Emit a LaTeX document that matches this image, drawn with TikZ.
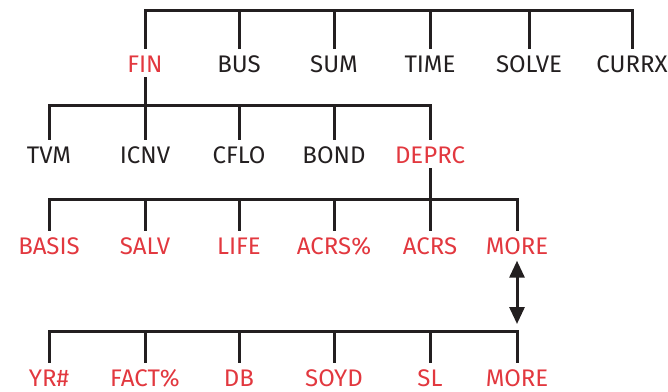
\documentclass[tikz,border=0pt]{standalone}
\usepackage{fontspec}
\setmainfont{Fira Sans}
\usetikzlibrary{arrows.meta}
\definecolor{hpred}{HTML}{E2383F}
\definecolor{hpink}{HTML}{231F20}
\begin{document}
\begin{tikzpicture}[x=1pt,y=-1pt,
  lbl/.style={inner xsep=0pt, inner ysep=6.5pt, text height=18pt, text depth=0pt,
    font=\fontsize{24}{24}\selectfont, text=hpink},
  red/.style={lbl, text=hpred},
  ln/.style={draw=hpink, line width=3pt},
  every path/.style={line cap=rect}]
\useasboundingbox (0,0) rectangle (668,391);
% row 1
\node[red] (fin)   at (145,63) {FIN};
\node[lbl] (bus)   at (239,63) {BUS};
\node[lbl] (sum)   at (334,63) {SUM};
\node[lbl] (time)  at (430,63) {TIME};
\node[lbl] (solve) at (529,63) {SOLVE};
\node[lbl] (currx) at (632,63) {CURRX};
% row 2
\node[lbl] (tvm)   at (49,154) {TVM};
\node[lbl] (icnv)  at (145,154) {ICNV};
\node[lbl] (cflo)  at (239,154) {CFLO};
\node[lbl] (bond)  at (334,154) {BOND};
\node[red] (deprc) at (430,154) {DEPRC};
% row 3
\node[red] (basis) at (49,245) {BASIS};
\node[red] (salv)  at (145,245) {SALV};
\node[red] (life)  at (239,245) {LIFE};
\node[red] (acrsp) at (334,245) {ACRS\%};
\node[red] (acrs)  at (430,245) {ACRS};
\node[red] (moreA) at (517,245) {MORE};
% row 4
\node[red] (yr)    at (49,377) {YR\#};
\node[red] (fact)  at (145,377) {FACT\%};
\node[red] (db)    at (239,377) {DB};
\node[red] (soyd)  at (334,377) {SOYD};
\node[red] (sl)    at (430,377) {SL};
\node[red] (moreB) at (517,377) {MORE};
% bars
\coordinate (b1) at (0,10);
\coordinate (b2) at (0,105);
\coordinate (b3) at (0,199);
\coordinate (b4) at (0,331);
% tree 1
\draw[ln] (fin.north) -- (fin.north |- b1) -- (currx.north |- b1) -- (currx.north);
\foreach \n in {bus,sum,time,solve} \draw[ln] (\n.north) -- (\n.north |- b1);
% tree 2
\draw[ln] (fin.south) -- (fin.south |- b2);
\draw[ln] (tvm.north) -- (tvm.north |- b2) -- (deprc.north |- b2) -- (deprc.north);
\foreach \n in {icnv,cflo,bond} \draw[ln] (\n.north) -- (\n.north |- b2);
% tree 3
\draw[ln] (deprc.south) -- (deprc.south |- b3);
\draw[ln] (basis.north) -- (basis.north |- b3) -- (moreA.north |- b3) -- (moreA.north);
\foreach \n in {salv,life,acrsp,acrs} \draw[ln] (\n.north) -- (\n.north |- b3);
% tree 4
\draw[ln] (yr.north) -- (yr.north |- b4) -- (moreB.north |- b4) -- (moreB.north);
\foreach \n in {fact,db,soyd,sl} \draw[ln] (\n.north) -- (\n.north |- b4);
% arrow
\coordinate (arrB) at ([yshift=7pt]moreB.north |- b4);
\draw[draw=hpink, line width=3pt, line cap=butt, {Triangle[length=17pt,width=15pt]}-{Triangle[length=17pt,width=15pt]}] (moreA.south) -- (arrB);
\end{tikzpicture}
\end{document}
